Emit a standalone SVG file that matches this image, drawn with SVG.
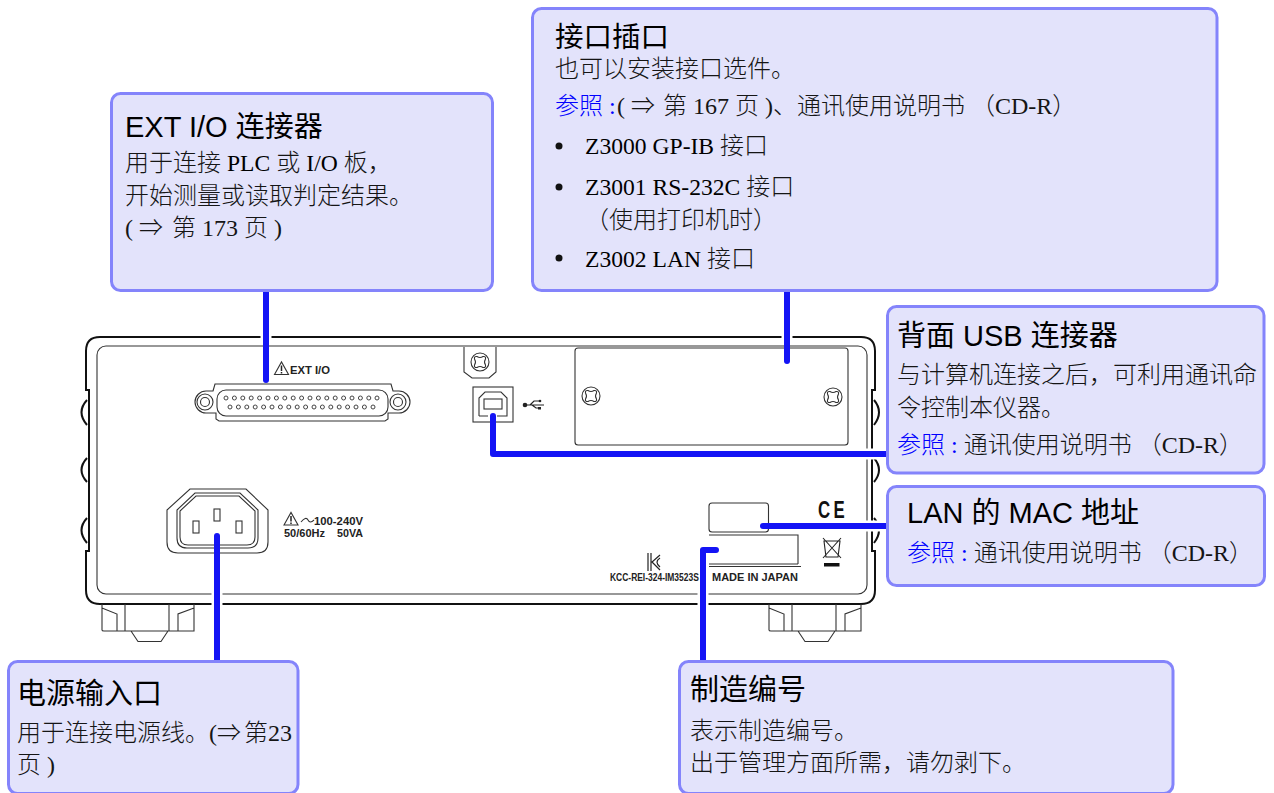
<svg xmlns="http://www.w3.org/2000/svg" width="1274" height="793" viewBox="0 0 1274 793">
<style>
.box{fill:#e3e3fb;stroke:#8484fb;stroke-width:3}
.t{font-family:"Liberation Sans","Noto Sans CJK SC",sans-serif;font-size:29px;fill:#000}
.b{font-family:"Liberation Serif","Noto Sans CJK SC",serif;font-size:24px;fill:#151515;font-weight:300}
.lat{font-size:23.6px;fill:#000}
.l{fill:#0000ff}
.d{fill:none;stroke:#333;stroke-width:1.1}
.o{fill:none;stroke:#111;stroke-width:2}
.p{fill:#fff;stroke:#444;stroke-width:1}
.m{font-family:"Liberation Sans",sans-serif;font-weight:700;font-size:11px;fill:#222}
.c{fill:none;stroke:#1414f5;stroke-width:6;stroke-linecap:round;stroke-linejoin:round}
.h{fill:none;stroke:#fff;stroke-width:11}
</style>
<defs>
<g id="screw"><circle r="9" class="d"/><path class="d" d="M-3-5.500Q0-3.500 3-5.500Q6-6 5.500-3Q3.500 0 5.500 3Q6 6 3 5.500Q0 3.500-3 5.500Q-6 6-5.500 3Q-3.500 0-5.500-3Q-6-6-3-5.500Z"/></g>
<g id="warn"><path class="d" d="M0 0L7-12.500L14 0Z"/><path d="M7-9V-3.500M7-2.500V-1" stroke="#222" stroke-width="1.500" fill="none"/></g>
<g id="foot"><path class="d" d="M0 0V26Q0 27 2 27H92V0M23 0V27M67 0V27M0 4L15 10V27M92 4L76 10V27M29 27L36 37.500H59L66 27"/></g>
</defs>
<g id="device">
<path class="o" d="M100 337H861Q875 337 875 351V390H872V551H875V590Q875 604 861 604H100Q86 604 86 590V551H89V390H86V351Q86 337 100 337Z"/>
<path class="o" stroke-width="1.500" d="M87 400Q76 412 87 425M87 458Q76 470 87 482M87 518Q76 530 87 543M874 400Q884 412 874 425M874 458Q884 470 874 482M874 518Q884 530 874 543"/>
<rect class="d" x="97" y="346" width="770" height="248" rx="9"/>
<use href="#foot" x="102" y="604"/><use href="#foot" x="769" y="604"/>
<g id="db25">
<path class="d" d="M213 391L215 384H391L393 391H399C405 391 410 396 410 402C410 408 405 413 399 413H388V419L385 421H219L216 419V413H206C200 413 195 408 195 402C195 396 200 391 206 391Z"/>
<rect class="d" x="217" y="390" width="171" height="26" rx="9"/>
<circle class="d" cx="205" cy="402" r="8"/><circle class="d" cx="205" cy="402" r="4.500"/>
<circle class="d" cx="398" cy="402" r="8"/><circle class="d" cx="398" cy="402" r="4.500"/>
<g class="p">
<circle cx="226" cy="398" r="2"/><circle cx="234.400" cy="398" r="2"/><circle cx="242.800" cy="398" r="2"/><circle cx="251.200" cy="398" r="2"/><circle cx="259.600" cy="398" r="2"/><circle cx="268" cy="398" r="2"/><circle cx="276.400" cy="398" r="2"/><circle cx="284.800" cy="398" r="2"/><circle cx="293.200" cy="398" r="2"/><circle cx="301.600" cy="398" r="2"/><circle cx="310" cy="398" r="2"/><circle cx="318.400" cy="398" r="2"/><circle cx="326.800" cy="398" r="2"/><circle cx="335.200" cy="398" r="2"/><circle cx="343.600" cy="398" r="2"/><circle cx="352" cy="398" r="2"/><circle cx="360.400" cy="398" r="2"/><circle cx="368.800" cy="398" r="2"/><circle cx="377" cy="398" r="2"/>
<circle cx="230" cy="407" r="2"/><circle cx="238.400" cy="407" r="2"/><circle cx="246.800" cy="407" r="2"/><circle cx="255.200" cy="407" r="2"/><circle cx="263.600" cy="407" r="2"/><circle cx="272" cy="407" r="2"/><circle cx="280.400" cy="407" r="2"/><circle cx="288.800" cy="407" r="2"/><circle cx="297.200" cy="407" r="2"/><circle cx="305.600" cy="407" r="2"/><circle cx="314" cy="407" r="2"/><circle cx="322.400" cy="407" r="2"/><circle cx="330.800" cy="407" r="2"/><circle cx="339.200" cy="407" r="2"/><circle cx="347.600" cy="407" r="2"/><circle cx="356" cy="407" r="2"/><circle cx="364.400" cy="407" r="2"/><circle cx="373" cy="407" r="2"/>
</g>
<use href="#warn" x="274.500" y="374.500"/>
<text class="m" x="290" y="374" textLength="40" lengthAdjust="spacingAndGlyphs">EXT I/O</text>
</g>
<g id="iec">
<path class="d" d="M190 489H246L268 510V542Q268 553 257 553H178Q167 553 167 542V510Z"/>
<path class="d" d="M195 493H240L258 510V538Q258 548 248 548H187Q177 548 177 538V510Z"/>
<path class="d" d="M196 496H239L255 511V537Q255 545 247 545H188Q180 545 180 537V511Z"/>
<rect class="d" x="193" y="521" width="6" height="12"/><rect class="d" x="214" y="509" width="6" height="12"/><rect class="d" x="236" y="521" width="6" height="12"/>
<use href="#warn" x="284" y="525"/>
<path class="d" d="M301 522Q306 516 308 520Q310 524 314 520" stroke-width="1.300"/>
<text class="m" x="314" y="525" textLength="49" lengthAdjust="spacingAndGlyphs">100-240V</text>
<text class="m" x="284" y="537" textLength="41" lengthAdjust="spacingAndGlyphs">50/60Hz</text>
<text class="m" x="337" y="537" textLength="26" lengthAdjust="spacingAndGlyphs">50VA</text>
</g>
<g id="usb">
<path class="d" d="M464 347V372L472 378H489L496 372V347"/>
<use href="#screw" x="480" y="362"/>
<rect class="d" x="473" y="387" width="40" height="35"/>
<path class="d" d="M479 416V398L485 392H501L507 398V416H497M488 416H479"/>
<rect class="d" x="484" y="399" width="18" height="10"/>
<path d="M525 405H544M530 405L534 401H539M532 405L536 408H539" fill="none" stroke="#222" stroke-width="1.200"/><circle cx="525" cy="405" r="2.300" fill="#222"/><circle cx="540" cy="401" r="1.300" fill="#222"/><rect x="538" y="407" width="3" height="2.500" fill="#222"/>
</g>
<g id="panel">
<rect class="d" x="575" y="348" width="273" height="97" rx="3"/>
<use href="#screw" x="591" y="396"/><use href="#screw" x="833" y="397"/>
</g>
<g id="labels">
<rect class="d" x="709" y="503" width="59.500" height="29" rx="3"/>
<path class="d" d="M709 535H798V564M709 564H798M709 566.500H801"/>
<text class="m" transform="translate(712 580.500) scale(1 1)">MADE IN JAPAN</text>
<text class="m" transform="translate(610 580.500) scale(.77 1)">KCC-REI-324-IM3523S</text>
<path d="M648 553V571M651 553V571M660 555L652 562L660 570M660 558Q654 562 660 567" fill="none" stroke="#222" stroke-width="1.200"/>
<text x="0 22" transform="translate(818 518) scale(.7 1)" style="font-family:'Liberation Sans',sans-serif;font-weight:700;font-size:24px;fill:#111">CE</text>
<path d="M824 541H840L838 557H826ZM823 538L841 558M841 538L823 558" fill="none" stroke="#222" stroke-width="1.100"/><rect x="824" y="563" width="15.500" height="3.500" fill="#111"/>
</g>
</g>
<g id="connectors">
<path class="h" d="M266 330V345M787 330V345M217 590V610M703 590V610"/>
<path class="h" d="M860 454H880M860 526H880"/>
<path class="c" d="M266 291V380"/>
<path class="c" d="M787 291V361"/>
<path class="c" d="M493 416V454H888"/>
<path class="c" d="M763 526H888"/>
<path class="c" d="M716 550H703V661"/>
<path class="c" d="M217 536V661"/>
</g>
<g id="node-interface">
<rect class="box" x="532.500" y="8.500" width="684.500" height="282" rx="9"/>
<text class="t" x="555" y="47" style="font-size:28.500px">接口插口</text>
<text class="b" x="555" y="77">也可以安装接口选件。</text>
<text class="b" y="114"><tspan class="l" x="555">参照 :</tspan><tspan x="617">( ⇒</tspan><tspan x="663">第 167 页 )、</tspan><tspan x="797">通讯使用说明书 （CD-R）</tspan></text>
<circle cx="559" cy="146" r="3.500" fill="#111"/><text class="b" x="585" y="154"><tspan class="lat">Z3000 GP-IB</tspan> 接口</text>
<circle cx="559" cy="187" r="3.500" fill="#111"/><text class="b" x="585" y="195"><tspan class="lat">Z3001 RS-232C</tspan> 接口</text>
<text class="b" x="585" y="228">（使用打印机时）</text>
<circle cx="559" cy="258" r="3.500" fill="#111"/><text class="b" x="585" y="267"><tspan class="lat">Z3002 LAN</tspan> 接口</text>
</g>
<g id="node-ext">
<rect class="box" x="111.500" y="93.500" width="381" height="197" rx="9"/>
<text class="t" x="125" y="137">EXT I/O 连接器</text>
<text class="b" x="125" y="171">用于连接 <tspan class="lat">PLC</tspan> 或 <tspan class="lat">I/O</tspan> 板，</text>
<text class="b" x="125" y="204">开始测量或读取判定结果。</text>
<text class="b" y="236"><tspan x="125">( ⇒</tspan><tspan x="172">第 173 页 )</tspan></text>
</g>
<g id="node-usb">
<rect class="box" x="887.500" y="306.500" width="376.500" height="166.500" rx="9"/>
<text class="t" x="897" y="346">背面 USB 连接器</text>
<text class="b" x="897" y="383">与计算机连接之后，可利用通讯命</text>
<text class="b" x="897" y="416">令控制本仪器。</text>
<text class="b" x="897" y="453"><tspan class="l">参照 :</tspan> 通讯使用说明书 （CD-R）</text>
</g>
<g id="node-mac">
<rect class="box" x="887.500" y="486.500" width="377" height="99" rx="9"/>
<text class="t" x="907" y="523">LAN 的 MAC 地址</text>
<text class="b" x="907" y="561"><tspan class="l">参照 :</tspan> 通讯使用说明书 （CD-R）</text>
</g>
<g id="node-power">
<rect class="box" x="8.500" y="661.500" width="289.500" height="132" rx="9"/>
<text class="t" x="17" y="704">电源输入口</text>
<text class="b" x="17" y="741">用于连接电源线。(⇒<tspan x="244">第23</tspan></text>
<text class="b" x="17" y="773">页 )</text>
</g>
<g id="node-serial">
<rect class="box" x="679.500" y="661.500" width="493.500" height="132" rx="9"/>
<text class="t" x="690" y="700">制造编号</text>
<text class="b" x="690" y="739">表示制造编号。</text>
<text class="b" x="690" y="771">出于管理方面所需，请勿剥下。</text>
</g>
</svg>
